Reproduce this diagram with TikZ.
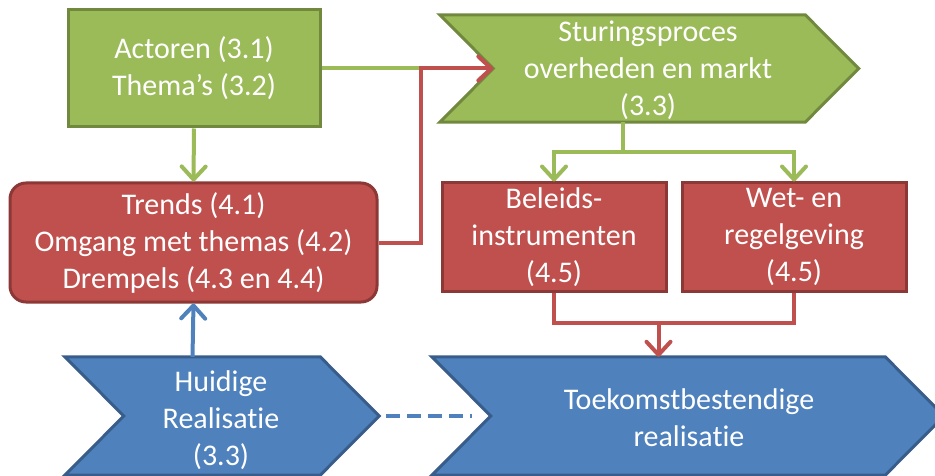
\documentclass[tikz,border=0pt]{standalone}
\usepackage{fontspec}
\setmainfont{Carlito}[Ligatures={NoCommon}]
\usetikzlibrary{arrows.meta,calc}

\definecolor{grfill}{HTML}{9BBB59}
\definecolor{grline}{HTML}{71893F}
\definecolor{rdfill}{HTML}{C0504D}
\definecolor{rdline}{HTML}{8C3836}
\definecolor{blfill}{HTML}{4F81BD}
\definecolor{blline}{HTML}{385D8A}

\tikzset{
  lbl/.style={text=white, align=center, inner sep=0pt,
    font=\fontsize{30}{37}\selectfont},
  body/.style={inner sep=0pt, minimum width=#1},
  greenbox/.style={draw=grline, fill=grfill, line width=3pt},
  redbox/.style={draw=rdline, fill=rdfill, line width=3pt},
  bluebox/.style={draw=blline, fill=blfill, line width=3pt},
  gconn/.style={draw=grfill, line width=4pt},
  rconn/.style={draw=rdfill, line width=4pt},
  bconn/.style={draw=blfill, line width=4pt},
  tip/.style={-{Straight Barb[length=13pt,width=24pt,line cap=round,line join=round]}},
}

\begin{document}
\begin{tikzpicture}[x=1pt,y=-1pt]
\useasboundingbox (0,0) rectangle (935,476);

% --- rectangular boxes ---
\node[greenbox, lbl, minimum width=252pt, minimum height=117pt]
  (actoren) at (194,68.5) {Actoren (3.1)\\Thema’s (3.2)};
\node[redbox, lbl, rounded corners=16pt, minimum width=367pt, minimum height=119pt]
  (trends) at (193.5,242.5) {Trends (4.1)\\Omgang met themas (4.2)\\Drempels (4.3 en 4.4)};
\node[redbox, lbl, minimum width=224pt, minimum height=108pt]
  (beleids) at (554,237) {Beleids-\\instrumenten\\(4.5)};
\node[redbox, lbl, minimum width=224pt, minimum height=108pt]
  (wet) at (794,237) {Wet- en\\regelgeving\\(4.5)};

% --- chevron bodies (the rectangular part of each chevron) ---
\node[body=365pt, minimum height=107pt] (sturing) at (622.5,68.5) {};
\node[body=255pt, minimum height=118pt] (huidige) at (192.5,416) {};
\node[body=453pt, minimum height=118pt] (toekomst) at (658.5,416) {};

% chevron outlines
\path[greenbox] (sturing.north west) -- (sturing.north east)
  -- ($(sturing.east)+(53.5,0)$) -- (sturing.south east) -- (sturing.south west)
  -- ($(sturing.west)+(53.5,0)$) coordinate (sturnotch) -- cycle;
\path[bluebox] (huidige.north west) -- (huidige.north east)
  -- ($(huidige.east)+(59,0)$) coordinate (huidigetip) -- (huidige.south east)
  -- (huidige.south west) -- ($(huidige.west)+(59,0)$) -- cycle;
\path[bluebox] (toekomst.north west) -- (toekomst.north east)
  -- ($(toekomst.east)+(59,0)$) -- (toekomst.south east) -- (toekomst.south west)
  -- ($(toekomst.west)+(59,0)$) coordinate (toekomstnotch) -- cycle;

% chevron texts
\node[lbl] at (648,70) {Sturingsproces\\overheden en markt\\(3.3)};
\node[lbl] at (221,420) {Huidige\\Realisatie\\(3.3)};
\node[lbl] at (689,418) {Toekomstbestendige\\realisatie};

% --- connectors ---
\coordinate (junction) at (421,68.5);
\coordinate (gsplit) at (622.5,152);
\coordinate (rjoin) at (658.5,323);
\coordinate (dashstart) at (386,416);
\coordinate (dashend) at (472,416);

\draw[gconn, tip] (actoren.south) -- (trends.north);
\draw[gconn] (actoren.east) -- (junction);
\draw[rconn, tip] (trends.east) -| (junction) -- (sturnotch);

\draw[bconn, tip] (huidige.north) -- (trends.south);
\draw[bconn, dash pattern=on 14pt off 7pt] (dashstart) -- (dashend);

\draw[gconn] (sturing.south) -- (gsplit);
\draw[gconn, tip] (gsplit) -| (beleids.north);
\draw[gconn, tip] (gsplit) -| (wet.north);

\draw[rconn] (beleids.south) |- (rjoin);
\draw[rconn] (wet.south) |- (rjoin);
\draw[rconn, tip] (rjoin) -- (toekomst.north);
\end{tikzpicture}
\end{document}
